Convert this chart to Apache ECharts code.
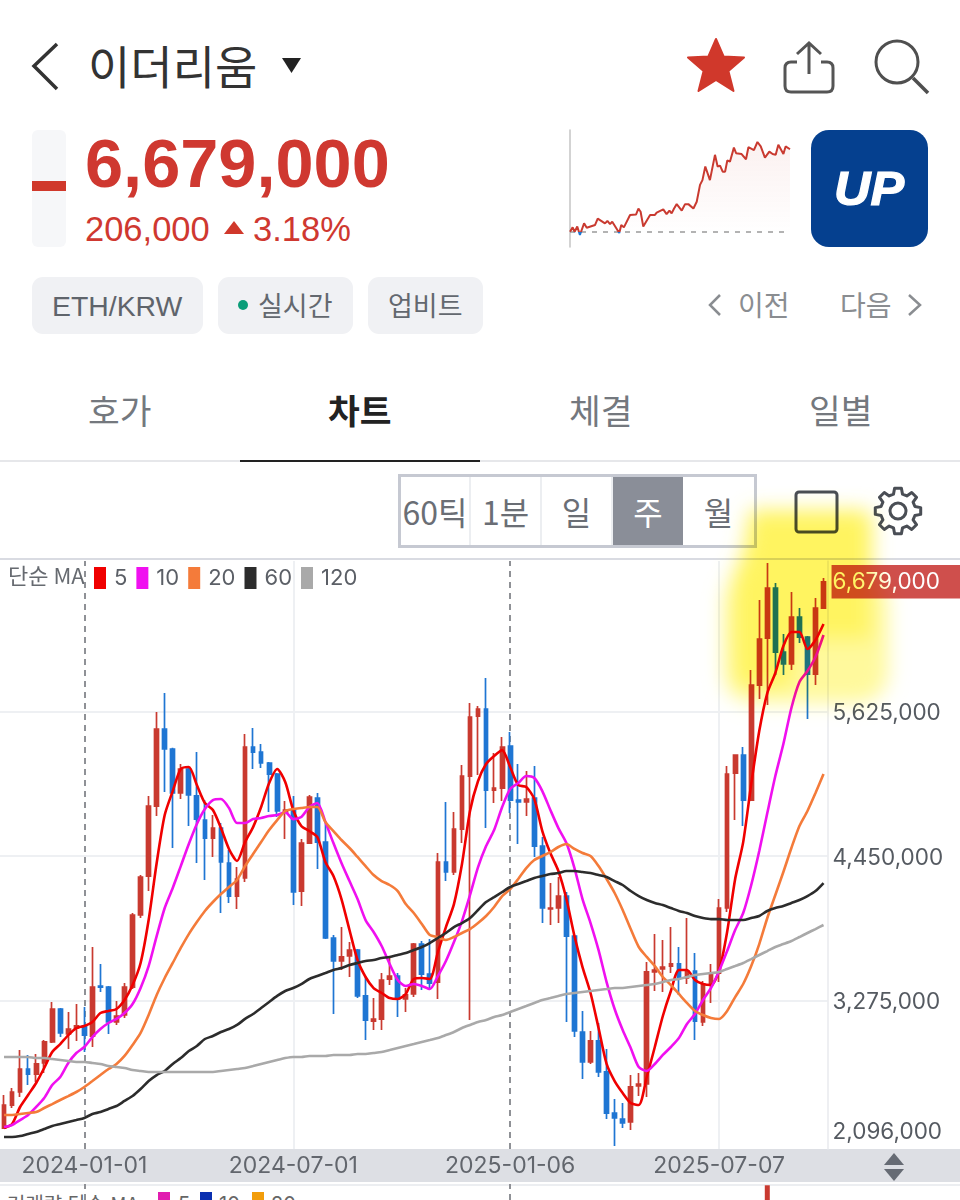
<!DOCTYPE html>
<html lang="ko"><head><meta charset="utf-8">
<script src="https://cdn.jsdelivr.net/npm/echarts@6/dist/echarts.min.js"></script>
<style>
html,body{margin:0;padding:0;background:#fff}
#page{position:relative;width:960px;height:1200px;overflow:hidden;background:#fff;font-family:"Liberation Sans","Noto Sans CJK KR",sans-serif}
.t{position:absolute;white-space:nowrap;line-height:1;transform:translateY(-50%)}
.k{font-family:"Noto Sans CJK KR",sans-serif}
.chip{position:absolute;top:277px;height:57px;background:#f0f1f4;border-radius:11px}
.cell{position:absolute;top:477px;height:68px;line-height:68px;text-align:center;font-size:32px;color:#6a6e75;font-family:"Noto Sans CJK KR",sans-serif;border-right:2px solid #eceef1;box-sizing:border-box}
#chart{position:absolute;left:0;top:0;width:960px;height:1200px}
svg.ov{position:absolute;left:0;top:0;width:960px;height:1200px;pointer-events:none}
</style></head><body>
<div id="page">
<svg class="ov" viewBox="0 0 960 1200">
  <path d="M57 44 L34 66 L57 89" fill="none" stroke="#333" stroke-width="3.5"/>
  <polygon points="282,58 301,58 291.5,73" fill="#222"/>
  <polygon points="716,39 723.6,56.5 744,57.4 728.4,71 733.5,91 716,80 698.5,91 703.6,71 688,57.4 708.4,56.5" fill="#d0382b" stroke="#d0382b" stroke-width="2" stroke-linejoin="round"/>
  <path d="M797 62 H791 Q785 62 785 68 V86 Q785 92 791 92 H827 Q833 92 833 86 V68 Q833 62 827 62 H821 M809 74 V44 M797 54 L809 43 L821 54" fill="none" stroke="#555" stroke-width="3"/>
  <circle cx="897" cy="62" r="21" fill="none" stroke="#4f4f4f" stroke-width="3"/><path d="M913 78 L928 93" stroke="#4f4f4f" stroke-width="3.5"/>
  <rect x="32" y="130" width="34" height="117" rx="6" fill="#f6f7f9"/><rect x="32" y="181" width="34" height="10" fill="#d0382b"/>
  <polygon points="234,221 244,234 224,234" fill="#d0382b"/>
  <rect x="811" y="130" width="117" height="117" rx="18" fill="#05408f"/>
  <text x="834" y="205" font-family="Liberation Sans" font-weight="700" font-style="italic" font-size="48" fill="#fff" stroke="#fff" stroke-width="1.2" textLength="70" lengthAdjust="spacingAndGlyphs">UP</text>
  <path d="M720 295 L710 305 L720 315" fill="none" stroke="#8a8d91" stroke-width="2.5"/>
  <path d="M909 295 L920 305 L909 315" fill="none" stroke="#8a8d91" stroke-width="2.5"/>
  <rect x="796" y="492" width="41" height="40" rx="3" fill="none" stroke="#4a4e55" stroke-width="3"/>
  <path id="gear" fill="none" stroke="#4a4e55" stroke-width="3" stroke-linejoin="round"/><circle cx="898" cy="511" r="8" fill="none" stroke="#4a4e55" stroke-width="3"/>
</svg>
<div class="t k" style="left:88px;top:64px;font-size:46px;color:#333">이더리움</div>
<div class="t" style="left:85px;top:164px;font-size:68.5px;font-weight:700;color:#cf3830">6,679,000</div>
<div class="t" style="left:85px;top:229px;font-size:34.5px;color:#cf3830">206,000</div>
<div class="t" style="left:253px;top:229px;font-size:34.5px;color:#cf3830">3.18%</div>
<div class="chip" style="left:32px;width:171px"></div><div class="chip" style="left:218px;width:135px"></div><div class="chip" style="left:368px;width:115px"></div>
<div class="t" style="left:52px;top:306px;font-size:28.4px;color:#5f646b">ETH/KRW</div>
<div style="position:absolute;left:238px;top:300px;width:10px;height:10px;border-radius:5px;background:#0a9d78"></div>
<div class="t k" style="left:258px;top:304px;font-size:27px;color:#63686f">실시간</div>
<div class="t k" style="left:388px;top:304px;font-size:27px;color:#63686f">업비트</div>
<div class="t k" style="left:738px;top:304px;font-size:28px;color:#8a8d91">이전</div>
<div class="t k" style="left:840px;top:304px;font-size:28px;color:#8a8d91">다음</div>
<div class="t k" style="left:88px;top:409px;font-size:34.5px;color:#74787e">호가</div>
<div class="t k" style="left:328px;top:409px;font-size:34.5px;font-weight:700;color:#222">차트</div>
<div class="t k" style="left:569px;top:409px;font-size:34.5px;color:#74787e">체결</div>
<div class="t k" style="left:809px;top:409px;font-size:34.5px;color:#74787e">일별</div>
<div style="position:absolute;left:0;top:460px;width:960px;height:2px;background:#e6e7ea"></div>
<div style="position:absolute;left:240px;top:460px;width:240px;height:2px;background:#222"></div>
<div style="position:absolute;left:398px;top:474px;width:359px;height:74px;border:3px solid #c6c9d2;box-sizing:border-box"></div>
<div class="cell" style="left:401px;width:70px">60틱</div><div class="cell" style="left:471px;width:71px">1분</div><div class="cell" style="left:542px;width:71px">일</div>
<div class="cell" style="left:613px;width:70px;background:#8a8e98;color:#fff;border:none">주</div><div class="cell" style="left:683px;width:71px;border:none">월</div>
<div style="position:absolute;left:0;top:558px;width:960px;height:2px;background:#d9dbe2"></div>
<div style="position:absolute;left:0;top:1149px;width:960px;height:33px;background:#dddfe4"></div>
<svg class="ov" viewBox="0 0 960 1200"><polygon points="894,1153 904,1165 884,1165" fill="#666b74"/><polygon points="884,1169 904,1169 894,1181" fill="#666b74"/></svg>
<div style="position:absolute;left:0;top:1184px;width:960px;height:2px;background:#eceef1"></div>
<div class="t k" style="left:7px;top:1204px;font-size:20px;color:#666">거래량 단순 MA</div>
<div style="position:absolute;left:158px;top:1192px;width:12px;height:22px;background:#e11db0"></div><div class="t" style="left:178px;top:1204px;font:20px Inter;color:#666">5</div>
<div style="position:absolute;left:200px;top:1192px;width:12px;height:22px;background:#0a2fb0"></div><div class="t" style="left:219px;top:1204px;font:20px Inter;color:#666">10</div>
<div style="position:absolute;left:252px;top:1192px;width:12px;height:22px;background:#f29d0b"></div><div class="t" style="left:271px;top:1204px;font:20px Inter;color:#666">20</div>
<div id="chart"></div>
<svg class="ov" viewBox="0 0 960 1200" style="mix-blend-mode:multiply">
  <defs><filter id="b" x="-20%" y="-20%" width="140%" height="140%"><feGaussianBlur stdDeviation="10"/></filter></defs>
  <g filter="url(#b)">
    <rect x="724" y="572" width="164" height="131" rx="30" fill="#fff99c"/>
    <path d="M750 510 H862 Q872 510 872 525 V640 H795 L790 688 H735 Q730 640 733 575 Q742 560 745 545 Z" fill="#fff460"/>
  </g>
</svg>
</div>
<script>
// decorative gear outline for the settings icon
(function(){let d='';const n=8,cx=898,cy=511;for(let i=0;i<n;i++){const a=i*2*Math.PI/n;[[-0.26,17.5],[-0.15,23],[0.15,23],[0.26,17.5]].forEach(([o,r],j)=>{const x=cx+r*Math.cos(a+o),y=cy+r*Math.sin(a+o);d+=(i===0&&j===0?'M':'L')+x.toFixed(1)+' '+y.toFixed(1)+' ';});}document.getElementById('gear').setAttribute('d',d+'Z');})();
// Weekly candles, all prices in thousand KRW
const tickDates=['2024-01-01','2024-07-01','2025-01-06','2025-07-07'];
const priceTicks=[2096,3275,4450,5625];
const gridTicks=[3275,4450,5625];
const lastPrice=6679;
const categories=[];
for(let i=0,d=Date.UTC(2023,9,23);i<103;i++,d+=7*864e5){categories.push(new Date(d).toISOString().slice(0,10));}
const opens=[2238,2425,2531,2718,2677,2767,2938,3206,3003,3051,
3068,2986,3392,3384,3100,3157,3384,3970,4287,4856,
5482,5320,4962,5157,4938,4742,4596,4677,4393,4124,
4271,5336,5295,5206,5116,4807,4824,4165,4555,4921,
4563,3783,3596,3637,3685,3312,3108,3124,3449,3474,
3287,3328,3734,3490,3425,4401,4320,4669,5100,5588,
5645,4986,5002,5344,4905,4889,4921,4531,4019,4027,
4124,3799,3019,2775,2946,2694,2360,2311,2287,2580,
2596,3507,3531,3555,3572,3458,3515,3100,3401,3498,
4027,5124,5271,4905,5840,6222,6629,6108,6011,6393,
6230,5929,6466];
const closes=[2425,2531,2718,2677,2759,2938,3206,3011,3043,3068,
2994,3384,3384,3100,3149,3384,3970,4279,4856,5482,
5320,4962,5157,4946,4750,4596,4677,4401,4124,4263,
5336,5295,5206,5116,4816,4824,4157,4555,4929,4563,
3783,3596,3629,3685,3312,3116,3124,3441,3474,3287,
3320,3734,3490,3417,4401,4320,4669,5100,5580,5645,
4986,5002,5336,4905,4889,4913,4531,4027,4027,4124,
3799,3027,2775,2946,2694,2360,2320,2279,2572,2596,
3507,3523,3547,3572,3458,3515,3108,3409,3498,4027,
5116,5271,4905,5840,6214,6629,6108,6011,6393,6230,
5929,6466,6679];
const lows=[2238,2401,2490,2588,2612,2685,2930,2978,2881,2946,
2856,2897,3344,3003,3076,3133,3368,3946,4165,4775,
4970,4515,4913,4694,4393,4254,4441,3986,4068,4019,
4238,5157,5165,4807,4767,4588,4051,4043,4547,4344,
3775,3165,3523,3466,3295,2954,3035,3035,3401,3141,
3181,3303,3360,3368,3287,4246,4295,4555,3116,5108,
4677,4881,4897,4799,4547,4775,4441,3905,3889,3905,
3100,2978,2637,2759,2653,2311,2092,2238,2222,2498,
2490,3352,3344,3498,3320,3409,2954,3068,3254,3425,
3994,4742,4694,4897,5726,5677,5921,5921,5962,6181,
5563,5840,6458];
const highs=[2507,2563,2872,2832,2840,2954,3263,3215,3181,3246,
3222,3710,3572,3392,3271,3417,3986,4295,4938,5620,
5775,5330,5198,5165,5295,4905,4783,4718,4498,4360,
5442,5490,5360,5215,5125,4897,4938,4588,4946,4962,
4718,3807,3872,3750,3693,3474,3295,3498,3620,3498,
3376,3742,3759,3775,4474,4889,4807,5189,5694,5669,
5897,5287,5417,5458,5198,5141,5181,4604,4230,4279,
4157,3799,3190,3027,3092,2881,2474,2442,2669,2685,
3588,3815,3767,3872,3710,3946,3661,3433,3572,4100,
5181,5271,5336,5962,6531,6832,6670,6255,6596,6466,
6238,6547,6710];
const ma5=[2238,2271,2409,2507,2604,2726,2856,2921,2994,3051,
3068,3100,3173,3190,3206,3279,3401,3580,3929,4393,
4783,4978,5157,5173,5027,4881,4824,4677,4507,4409,
4563,4685,4848,5043,5157,5051,4824,4694,4653,4604,
4401,4287,4100,3848,3604,3466,3376,3336,3295,3287,
3328,3450,3458,3450,3669,3872,4059,4385,4816,5060,
5198,5263,5311,5173,5027,5011,4913,4653,4474,4328,
4100,3799,3547,3336,3051,2759,2620,2523,2442,2425,
2653,2897,3149,3352,3523,3523,3442,3409,3401,3515,
3832,4263,4563,5035,5466,5775,5938,6157,6271,6271,
6133,6206,6336];
const ma10=[2246,2263,2303,2344,2409,2482,2588,2653,2767,2848,
2897,2978,3043,3092,3125,3173,3246,3377,3555,3799,
4027,4190,4368,4547,4710,4832,4905,4913,4840,4718,
4718,4750,4759,4775,4783,4807,4750,4767,4848,4881,
4726,4555,4393,4246,4100,3929,3832,3718,3572,3442,
3393,3409,3393,3368,3474,3596,3750,3921,4133,4360,
4531,4661,4848,4994,5043,5100,5084,4978,4824,4677,
4555,4352,4100,3905,3685,3425,3206,3035,2889,2734,
2702,2759,2832,2897,2970,3084,3165,3279,3377,3515,
3677,3848,3986,4214,4490,4799,5100,5360,5653,5864,
5954,6068,6247];
const ma20=[2344,2344,2352,2360,2368,2401,2433,2466,2498,2531,
2572,2620,2669,2718,2759,2824,2913,3011,3157,3320,
3458,3580,3702,3815,3913,4003,4076,4141,4198,4255,
4368,4466,4563,4661,4742,4816,4832,4840,4848,4848,
4726,4653,4580,4515,4442,4368,4295,4246,4214,4165,
4059,3986,3897,3807,3791,3767,3791,3824,3856,3905,
3962,4035,4124,4181,4263,4352,4417,4450,4482,4523,
4547,4507,4474,4450,4368,4263,4149,4011,3856,3710,
3629,3555,3466,3401,3328,3255,3190,3157,3133,3125,
3190,3303,3409,3555,3734,3946,4133,4320,4515,4694,
4816,4962,5116];
const ma60=[2165,2165,2173,2190,2206,2230,2255,2271,2287,2303,
2320,2352,2368,2393,2417,2458,2498,2555,2620,2669,
2702,2759,2807,2864,2905,2962,2986,3019,3043,3076,
3125,3165,3214,3263,3312,3352,3377,3409,3450,3474,
3498,3523,3539,3563,3580,3596,3604,3620,3629,3645,
3661,3685,3710,3742,3783,3824,3872,3905,3946,4011,
4076,4116,4157,4198,4222,4246,4271,4287,4303,4311,
4328,4328,4320,4311,4295,4279,4246,4214,4165,4124,
4092,4068,4051,4027,4003,3986,3962,3946,3937,3937,
3929,3929,3929,3946,3962,4003,4027,4043,4068,4092,
4124,4165,4230];
const ma120=[2816,2816,2816,2816,2807,2807,2799,2791,2783,2775,
2775,2767,2759,2742,2734,2726,2710,2702,2694,2694,
2694,2694,2694,2694,2694,2694,2694,2702,2710,2718,
2726,2742,2759,2775,2791,2807,2816,2816,2824,2824,
2824,2832,2832,2832,2840,2840,2848,2856,2872,2889,
2905,2921,2938,2954,2970,2994,3019,3051,3076,3100,
3116,3141,3157,3181,3206,3230,3255,3279,3295,3312,
3328,3336,3344,3352,3360,3368,3377,3377,3385,3393,
3401,3409,3425,3442,3450,3466,3482,3490,3498,3507,
3531,3555,3580,3612,3645,3677,3710,3734,3759,3791,
3824,3856,3889];
const volumeDates=['2025-08-18'];
const volumeValues=[92];
// Intraday sparkline: time share of the session, price in thousand KRW
const sparkTime=[0,1.2,2.1,3.3,4.5,6.4,7.6,11.4,12.6,15.9,17,18.2,19.2,22.4,23.3,24.5,27.3,30,31.1,32.1,33.3,36.4,38.6,39.4,42.4,43.9,45.2,46.2,47.3,48.5,50.8,52.3,53.8,56.1,57.6,59.1,60.2,61.5,63.6,65.9,67.1,68.2,69.4,70.5,71.5,72.7,74.5,75.5,78,80,81.1,83.6,85.2,86.7,88.6,90.6,92.1,93.5,94.7,97,98,100];
const sparkPrice=[6473,6484,6473,6486,6465,6494,6483,6490,6506,6494,6500,6492,6498,6470,6490,6484,6515,6516,6531,6523,6486,6515,6515,6521,6529,6517,6526,6519,6531,6542,6526,6542,6542,6531,6548,6590,6602,6636,6602,6665,6636,6638,6623,6623,6651,6648,6683,6669,6667,6654,6684,6677,6697,6686,6658,6673,6667,6665,6690,6667,6686,6679];
const sparkBase=6473;

const RED='#c93a30',BLUE='#1f76d3';
const AX='Inter, "Noto Sans CJK KR", sans-serif';
const fmt=v=>v.toLocaleString('en-US')+',000';
const maSeries=[['5',ma5,'#f00000'],['10',ma10,'#f010f0'],['20',ma20,'#f47b3a'],['60',ma60,'#2c2c2c'],['120',ma120,'#a9a9a9']].map(([n,d,c])=>({
  name:n,type:'line',xAxisIndex:0,yAxisIndex:0,data:d,showSymbol:false,symbol:'none',z:5,smooth:0.25,
  lineStyle:{color:c,width:2.6},itemStyle:{color:c},silent:true}));
const dashed={type:[6,5],color:'#8f9196',width:2};
const solid={type:'solid',color:'#eef0f3',width:2};
const sparkStroke={type:'linear',x:0,y:130,x2:0,y2:247,global:true,colorStops:[{offset:0,color:RED},{offset:0.872,color:RED},{offset:0.872,color:BLUE},{offset:1,color:BLUE}]};
const chart=echarts.init(document.getElementById('chart'),null,{renderer:'canvas'});
chart.setOption({
  animation:false,backgroundColor:'transparent',
  grid:[{left:-1.6,width:829.15,top:561,height:588},
        {left:-1.6,width:829.15,top:1184,height:40},
        {left:570,width:220,top:130,height:117}],
  legend:{left:94,top:567,padding:0,icon:'rect',itemWidth:12,itemHeight:22,itemGap:9,selectedMode:false,
    data:['5','10','20','60','120'],textStyle:{color:'#5b5f66',fontSize:22,fontFamily:AX,padding:[0,0,0,3]}},
  graphic:[{type:'text',left:8,top:565,silent:true,style:{text:'단순 MA',fill:'#666a70',font:'22px "Noto Sans CJK KR"'}}],
  xAxis:[
   {type:'category',gridIndex:0,data:categories,boundaryGap:true,axisLine:{show:false},axisTick:{show:false},splitLine:{show:false},
    axisLabel:{interval:(i,v)=>tickDates.includes(v),color:'#62666d',fontSize:23,fontFamily:AX,margin:6,hideOverlap:false}},
   {type:'category',gridIndex:1,data:categories,boundaryGap:true,show:false},
   {type:'value',gridIndex:2,min:0,max:100,show:false}],
  yAxis:[
   {type:'value',gridIndex:0,position:'right',min:2067.5,max:6848.6,
    axisLine:{show:true,lineStyle:{color:'#e8eaee',width:1.5}},
    axisTick:{show:false,customValues:gridTicks},
    splitLine:{show:true,lineStyle:{color:'#eef0f3',width:2}},
    axisLabel:{customValues:priceTicks,margin:5,color:'#555a61',fontSize:22.5,fontFamily:AX,padding:[4,0,0,0],
      formatter:v=>v===priceTicks[0]?'{low|'+fmt(v)+'}':fmt(v),
      rich:{low:{color:'#555a61',fontSize:22.5,fontFamily:AX,padding:[0,0,30,0]}}}},
   {type:'value',gridIndex:1,min:0,max:100,show:false},
   {type:'value',gridIndex:2,min:6435,max:6727,position:'left',axisLine:{show:true,lineStyle:{color:'#c4c4c4',width:1.5}},axisTick:{show:false},axisLabel:{show:false},splitLine:{show:false}}],
  series:[
   {type:'candlestick',xAxisIndex:0,yAxisIndex:0,barWidth:4.2,z:3,
    data:categories.map((_,i)=>[opens[i],closes[i],lows[i],highs[i]]),
    itemStyle:{color:RED,color0:BLUE,borderColor:RED,borderColor0:BLUE,borderWidth:1.7},
    markLine:{silent:true,symbol:'none',z:2,label:{show:false},data:[
      {xAxis:tickDates[0],lineStyle:dashed},{xAxis:tickDates[2],lineStyle:dashed},
      {xAxis:tickDates[1],lineStyle:solid},{xAxis:tickDates[3],lineStyle:solid},
      {yAxis:lastPrice,lineStyle:{color:'rgba(0,0,0,0)',width:0},label:{show:true,position:'end',distance:4,formatter:()=>fmt(lastPrice),
        color:'#fff',fontSize:22.5,fontFamily:AX,backgroundColor:'#cf4f4c',padding:[6,30,5,1]}}]}},
   ...maSeries,
   {type:'bar',xAxisIndex:1,yAxisIndex:1,barWidth:5,data:volumeDates.map((d,i)=>[d,volumeValues[i]]),itemStyle:{color:RED},
    markLine:{silent:true,symbol:'none',label:{show:false},data:[{xAxis:tickDates[0],lineStyle:dashed},{xAxis:tickDates[2],lineStyle:dashed}]}},
   {type:'line',xAxisIndex:2,yAxisIndex:2,data:sparkTime.map((t,i)=>[t,sparkPrice[i]]),showSymbol:false,symbol:'none',silent:true,z:3,
    lineStyle:{width:2,color:sparkStroke},itemStyle:{color:RED},
    areaStyle:{origin:sparkBase,color:{type:'linear',x:0,y:0,x2:0,y2:1,colorStops:[{offset:0,color:'rgba(201,58,48,0.10)'},{offset:1,color:'rgba(201,58,48,0)'}]}},
    markLine:{silent:true,symbol:'none',z:2,label:{show:false},data:[{yAxis:sparkBase,lineStyle:{type:[5,6],color:'#9a9a9a',width:1.5}}]}}
  ]
});
</script>
</body></html>
